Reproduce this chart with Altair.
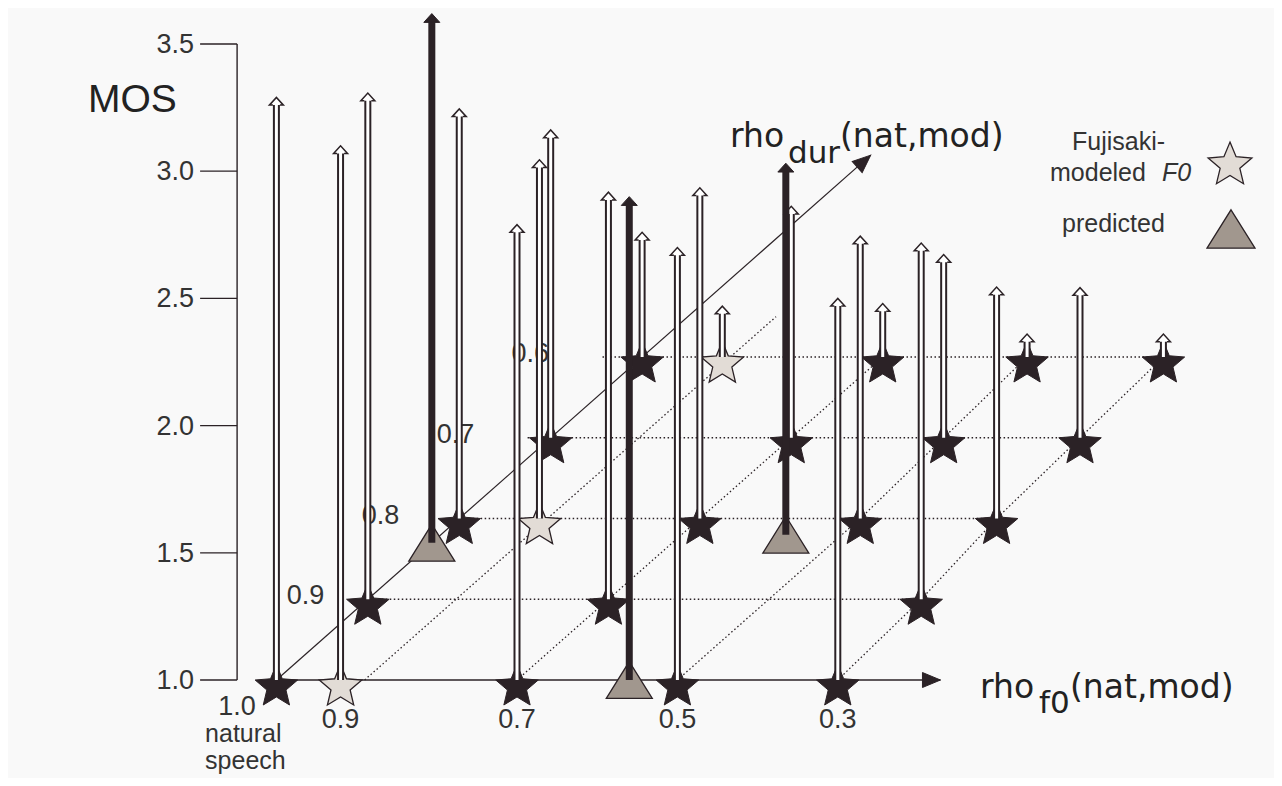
import math
import altair as alt
import pandas as pd

# ---------------- data ----------------
# one entry per marker: rho_f0, rho_dur, MOS (arrow length above the marker), kind, column group
rho_f0 = [1.00, 0.92, 0.70, 0.56, 0.50, 0.30,
          1.00, 0.70, 0.31,
          1.00, 1.00, 0.90, 0.70, 0.57, 0.50, 0.33,
          1.00, 0.70, 0.51, 0.34,
          1.00, 0.90, 0.70, 0.52, 0.35]
rho_dur = [1.0, 1.0, 1.0, 1.0, 1.0, 1.0,
           0.9, 0.9, 0.9,
           0.83, 0.8, 0.8, 0.8, 0.82, 0.8, 0.8,
           0.7, 0.7, 0.7, 0.7,
           0.6, 0.6, 0.6, 0.6, 0.6]
mos = [3.29, 3.10, 2.79, 2.90, 2.70, 2.50,
       2.99, 2.60, 2.40,
       3.08, 2.61, 2.41, 2.30, 2.46, 2.11, 1.91,
       2.21, 1.91, 1.72, 1.59,
       1.49, 1.20, 1.21, 1.09, 1.09]
kind = ["resynth", "fujisaki", "resynth", "predicted", "resynth", "resynth",
        "resynth", "resynth", "resynth",
        "predicted", "resynth", "fujisaki", "resynth", "predicted", "resynth", "resynth",
        "resynth", "resynth", "resynth", "resynth",
        "resynth", "fujisaki", "resynth", "resynth", "resynth"]
column = ["1.0", "0.9", "0.7", "pred", "0.5", "0.3",
          "1.0", "0.7", "0.3",
          "pred", "1.0", "0.9", "0.7", "pred", "0.5", "0.3",
          "1.0", "0.7", "0.5", "0.3",
          "1.0", "0.9", "0.7", "0.5", "0.3"]

dur_rows = [0.9, 0.8, 0.7, 0.6]
dur_tick_text = ["0.9", "0.8", "0.7", "0.6"]
f0_tick_pos = [0.92, 0.70, 0.50, 0.30]
f0_tick_text = ["0.9", "0.7", "0.5", "0.3"]
mos_ticks = [1.0, 1.5, 2.0, 2.5, 3.0, 3.5]
mos_tick_text = ["1.0", "1.5", "2.0", "2.5", "3.0", "3.5"]
fuj_guide_f0 = [0.89, 0.89]
fuj_guide_dur = [1.0, 0.55]

# ---------------- layout / projection constants ----------------
W, H = 1266, 770
PX_F0, PX_MOS = 802.0, 254.4
XHI = 0.7 + 509 / PX_F0
XLO = 0.7 - (W - 509) / PX_F0
YHI = 1 + 672 / PX_MOS
YLO = 1 - (H - 672) / PX_MOS
KX = 1.14      # f0-units shift per unit of (1 - rho_dur)
KY = 3.174     # MOS-units rise per unit of (1 - rho_dur)
KL = 0.934     # slant of the rho_dur tick labels / row starts
LABEL_F0 = 1.057
ROWSTART_F0 = 0.967
AXIS_F0 = 1.049
TICK_LEN_F0 = 37 / PX_F0
F0_AXIS_END = 0.172
DUR_AXIS_END = 0.35

DARK = "#2b2226"
TXT = "#333333"
LIGHT = "#e2dcd6"
TRIFILL = "#a1978e"
BG = "#f9f9f9"
SANS = "Liberation Sans"
TFONT = "DejaVu Sans"

STAR = ("M0,-0.691L0.2645,-0.0551L0.9511,0L0.428,0.448L0.5878,1.118L0,0.759"
        "L-0.5878,1.118L-0.428,0.448L-0.9511,0L-0.2645,-0.0551Z")
TRI = "M0,-0.8L1,0.8L-1,0.8Z"
HEAD_OPEN = "M-0.5,1.1L-1,1.1L0,0L1,1.1L0.5,1.1"
HEAD_SOLID = "M0,0L1,1.1L-1,1.1Z"
AX_HEAD = "M0,0L-1.2,-0.5L-1.2,0.5Z"

XS = alt.Scale(domain=[XLO, XHI], reverse=True, nice=False, zero=False)
YS = alt.Scale(domain=[YLO, YHI], nice=False, zero=False)


def X(f):
    return alt.X(f"{f}:Q", scale=XS, axis=None)


def Y(f):
    return alt.Y(f"{f}:Q", scale=YS, axis=None)


def project(ch):
    return ch.transform_calculate(d="1 - datum.dur").transform_calculate(
        sx=f"datum.f0 - {KX} * datum.d",
        sy=f"1 + {KY} * datum.d",
    )


pts = pd.DataFrame({"f0": rho_f0, "dur": rho_dur, "mos": mos, "kind": kind, "col": column})
P = project(alt.Chart(pts)).transform_calculate(top="datum.sy + datum.mos - 1")

row_end = [min(f for f, d, k in zip(rho_f0, rho_dur, kind) if d == r and k != "predicted")
           for r in dur_rows]
rows_df = pd.DataFrame({"dur": dur_rows, "end_f0": row_end, "t": dur_tick_text})
dot = dict(color=DARK, strokeWidth=1.3, strokeDash=[1.5, 2.5])

rows_layer = alt.Chart(rows_df).transform_calculate(d="1 - datum.dur").transform_calculate(
    x1=f"{ROWSTART_F0} - {KL} * datum.d",
    x2=f"datum.end_f0 - {KX} * datum.d",
    sy=f"1 + {KY} * datum.d",
).mark_rule(**dot).encode(x=X("x1"), x2="x2:Q", y=Y("sy"))

cols_layer = P.transform_filter(
    alt.FieldOneOfPredicate(field="col", oneOf=["0.7", "0.5", "0.3"])
).mark_line(**dot).encode(x=X("sx"), y=Y("sy"), detail="col:N", order=alt.Order("d:Q"))

fuj_layer = project(alt.Chart(pd.DataFrame({"f0": fuj_guide_f0, "dur": fuj_guide_dur}))).mark_line(
    **dot).encode(x=X("sx"), y=Y("sy"), order=alt.Order("d:Q"))

# axes
f0_axis_df = pd.DataFrame({"f0": [1.0, F0_AXIS_END], "dur": [1.0, 1.0]})
dur_axis_df = pd.DataFrame({"f0": [1.0, 1.0], "dur": [1.0, DUR_AXIS_END]})
f0_axis = project(alt.Chart(f0_axis_df)).mark_line(color=DARK, strokeWidth=1.4).encode(
    x=X("sx"), y=Y("sy"), order=alt.Order("d:Q"))
dur_axis = project(alt.Chart(dur_axis_df)).mark_line(color=DARK, strokeWidth=1.2).encode(
    x=X("sx"), y=Y("sy"), order=alt.Order("d:Q"))
f0_head = project(alt.Chart(f0_axis_df.iloc[[1]])).mark_point(
    shape=AX_HEAD, size=900, filled=True, fill=DARK, stroke=DARK, strokeWidth=1, opacity=1
).encode(x=X("sx"), y=Y("sy"))
ang = 360 + math.degrees(math.atan2(-KY * PX_MOS, KX * PX_F0))
dur_head = project(alt.Chart(dur_axis_df.iloc[[1]])).mark_point(
    shape=AX_HEAD, size=900, filled=True, fill=DARK, stroke=DARK, strokeWidth=1, opacity=1,
    angle=ang
).encode(x=X("sx"), y=Y("sy"))

mos_axis = alt.Chart(pd.DataFrame({"x": [AXIS_F0], "lo": [mos_ticks[0]], "hi": [mos_ticks[-1]]})
                     ).mark_rule(color=DARK, strokeWidth=1.4).encode(x=X("x"), y=Y("lo"), y2="hi:Q")
tick_df = pd.DataFrame({"m": mos_ticks, "t": mos_tick_text, "x": [AXIS_F0] * len(mos_ticks)})
mos_ticks_layer = alt.Chart(tick_df).transform_calculate(
    x2=f"datum.x + {TICK_LEN_F0}"
).mark_rule(color=DARK, strokeWidth=1.3).encode(x=X("x"), x2="x2:Q", y=Y("m"))
mos_tick_labels = alt.Chart(tick_df).mark_text(
    font=SANS, fontSize=27, color=TXT, align="right", baseline="middle", dx=-43, dy=1
).encode(x=X("x"), y=Y("m"), text="t:N")

# tick labels
dur_labels = alt.Chart(rows_df).transform_calculate(d="1 - datum.dur").transform_calculate(
    lx=f"{LABEL_F0} - {KL} * datum.d", sy=f"1 + {KY} * datum.d"
).mark_text(font=SANS, fontSize=27, color=TXT, align="center", baseline="alphabetic", dy=5
            ).encode(x=X("lx"), y=Y("sy"), text="t:N")

f0_lab_df = pd.DataFrame({"f0": f0_tick_pos, "t": f0_tick_text, "m": [1.0] * len(f0_tick_pos)})
f0_labels = alt.Chart(f0_lab_df).mark_text(
    font=SANS, fontSize=27, color=TXT, align="center", baseline="alphabetic", dy=48
).encode(x=X("f0"), y=Y("m"), text="t:N")

nat_df = pd.DataFrame({"f0": [AXIS_F0], "m": [1.0], "t": ["1.0"]})
nat_one = alt.Chart(nat_df).mark_text(
    font=SANS, fontSize=27, color=TXT, align="center", baseline="alphabetic", dy=35
).encode(x=X("f0"), y=Y("m"), text="t:N")
nat_w1 = alt.Chart(nat_df).mark_text(
    font=SANS, fontSize=25, color=TXT, align="left", baseline="alphabetic", dx=-32, dy=62,
    text="natural").encode(x=X("f0"), y=Y("m"))
nat_w2 = alt.Chart(nat_df).mark_text(
    font=SANS, fontSize=25, color=TXT, align="left", baseline="alphabetic", dx=-32, dy=89,
    text="speech").encode(x=X("f0"), y=Y("m"))


def label(text, x, y, size, font=SANS, italic=False, color=TXT):
    return alt.Chart(pd.DataFrame({"t": [text]})).mark_text(
        align="left", baseline="alphabetic", fontSize=size, font=font,
        fontStyle="italic" if italic else "normal", color=color
    ).encode(text="t:N", x=alt.value(x), y=alt.value(y))


titles = [
    label("MOS", 80, 104, 39, color="#222222"),
    label("rho", 722, 139, 33, TFONT, color="#222222"),
    label("dur", 780, 155, 31, TFONT, color="#222222"),
    label("(nat,mod)", 832, 139, 33, TFONT, color="#222222"),
    label("rho", 972, 690, 33, TFONT, color="#222222"),
    label("f0", 1031, 705, 31, TFONT, color="#222222"),
    label("(nat,mod)", 1062, 690, 33, TFONT, color="#222222"),
    label("Fujisaki-", 1064, 142, 25),
    label("modeled", 1042, 173, 25),
    label("F0", 1154, 173, 25, italic=True),
    label("predicted", 1054, 224, 25),
]
one = pd.DataFrame({"a": [0]})
leg_star = alt.Chart(one).mark_point(
    shape=STAR, size=2116, filled=True, fill=LIGHT, stroke=DARK, strokeWidth=1.3, opacity=1
).encode(x=alt.value(1222), y=alt.value(150))
leg_tri = alt.Chart(one).mark_point(
    shape=TRI, size=2304, filled=True, fill=TRIFILL, stroke=DARK, strokeWidth=1.3, opacity=1
).encode(x=alt.value(1223), y=alt.value(221))

# markers
stars_dark = P.transform_filter("datum.kind == 'resynth'").mark_point(
    shape=STAR, size=2000, filled=True, fill=DARK, stroke=DARK, strokeWidth=1, opacity=1
).encode(x=X("sx"), y=Y("sy"))
stars_light = P.transform_filter("datum.kind == 'fujisaki'").mark_point(
    shape=STAR, size=2000, filled=True, fill=LIGHT, stroke=DARK, strokeWidth=1.3, opacity=1
).encode(x=X("sx"), y=Y("sy"))
tris = P.transform_filter("datum.kind == 'predicted'").mark_point(
    shape=TRI, size=2116, filled=True, fill=TRIFILL, stroke=DARK, strokeWidth=1.3, opacity=1
).encode(x=X("sx"), y=Y("sy"))

# arrows
hollow = P.transform_filter("datum.kind != 'predicted'")
shaft_dark = hollow.mark_rule(color=DARK, strokeWidth=7, y2Offset=6).encode(
    x=X("sx"), y=Y("sy"), y2="top:Q")
shaft_white = hollow.mark_rule(color="#ffffff", strokeWidth=3, y2Offset=5).encode(
    x=X("sx"), y=Y("sy"), y2="top:Q")
heads_open = hollow.mark_point(
    shape=HEAD_OPEN, size=196, filled=True, fill="#ffffff", stroke=DARK, strokeWidth=1.5,
    opacity=1).encode(x=X("sx"), y=Y("top"))
solid = P.transform_filter("datum.kind == 'predicted'")
shaft_solid = solid.mark_rule(color=DARK, strokeWidth=7, y2Offset=7).encode(
    x=X("sx"), y=Y("sy"), y2="top:Q")
heads_solid = solid.mark_point(
    shape=HEAD_SOLID, size=256, filled=True, fill=DARK, stroke=DARK, strokeWidth=1,
    opacity=1).encode(x=X("sx"), y=Y("top"))

chart = alt.layer(
    mos_axis, mos_ticks_layer, mos_tick_labels,
    rows_layer, cols_layer, fuj_layer, f0_axis, dur_axis, f0_head, dur_head,
    dur_labels, f0_labels, nat_one, nat_w1, nat_w2, *titles, leg_star, leg_tri,
    stars_dark, stars_light, tris,
    shaft_dark, shaft_white, heads_open, shaft_solid, heads_solid,
).properties(
    width=W, height=H, padding=0, autosize="none", background=BG
).configure_view(strokeWidth=0)

chart.save("out.html", embed_options={"renderer": "svg", "actions": False})
